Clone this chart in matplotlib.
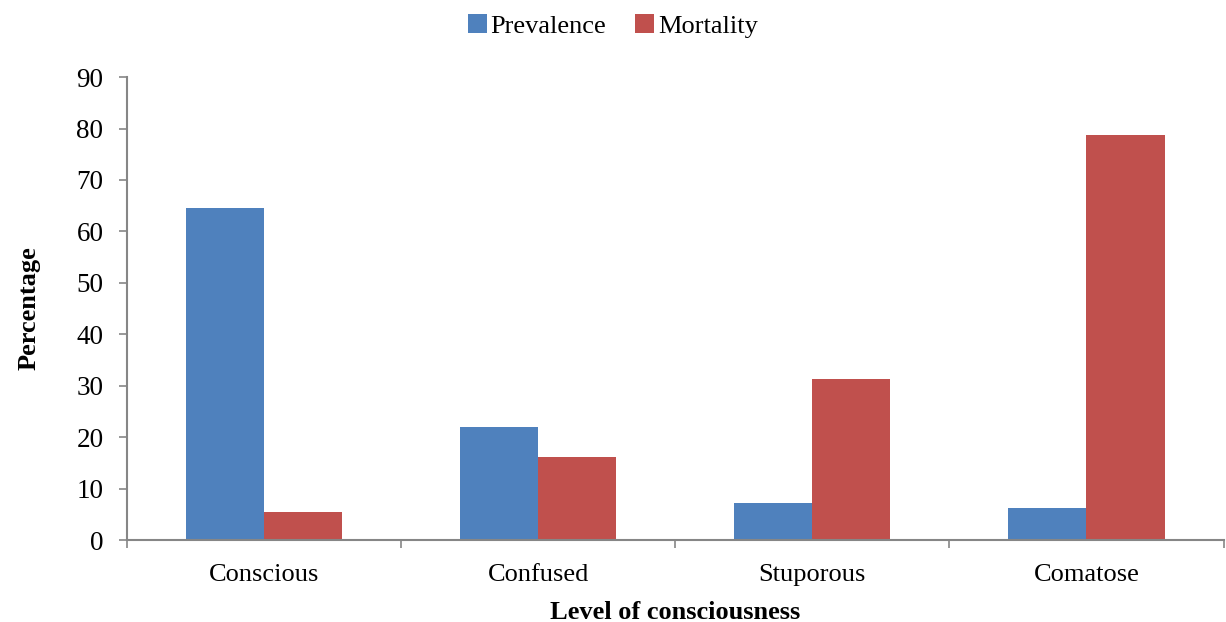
import numpy as np
import matplotlib
matplotlib.use("Agg")
import matplotlib.pyplot as plt

categories = ["Conscious", "Confused", "Stuporous", "Comatose"]
prevalence = [64.5, 22.0, 7.2, 6.3]
mortality = [5.5, 16.2, 31.3, 78.7]

plt.rcParams['font.family'] = ['Liberation Serif', 'DejaVu Serif']

fig = plt.figure(figsize=(12.26, 6.22), dpi=100)
ax = fig.add_axes([0.1036, 0.1318, 0.8944, 0.7442])

x = np.arange(len(categories))
w = 0.285
ax.bar(x - w / 2, prevalence, w, color='#4F81BD', label="Prevalence")
ax.bar(x + w / 2, mortality, w, color='#C0504D', label="Mortality")

ax.set_xlim(-0.5, len(categories) - 0.5)
ax.set_ylim(0, 90)
ax.set_yticks(range(0, 91, 10))
ax.set_xticks(x)
ax.set_xticklabels(categories, fontsize=19)
ax.set_xticks(np.arange(-0.5, len(categories), 1), minor=True)
ax.tick_params(axis='x', which='major', length=0, pad=17)
ax.tick_params(axis='x', which='minor', length=6, color='#868686', width=1.2)
ax.tick_params(axis='y', labelsize=19.5, length=6, color='#868686', width=1.2, pad=11)

for s in ['top', 'right']:
    ax.spines[s].set_visible(False)
for s in ['left', 'bottom']:
    ax.spines[s].set_color('#868686')
    ax.spines[s].set_linewidth(1.5)

ax.set_xlabel("Level of consciousness", fontsize=19, fontweight='bold', labelpad=11)
ax.set_ylabel("Percentage", fontsize=19, fontweight='bold', labelpad=26)

fig.legend(loc='upper center', bbox_to_anchor=(0.5, 1.015), ncol=2, frameon=False,
           fontsize=19, handlelength=0.7, handleheight=0.7, handletextpad=0.15,
           columnspacing=1.1)

fig.savefig("out.png", dpi=100)
